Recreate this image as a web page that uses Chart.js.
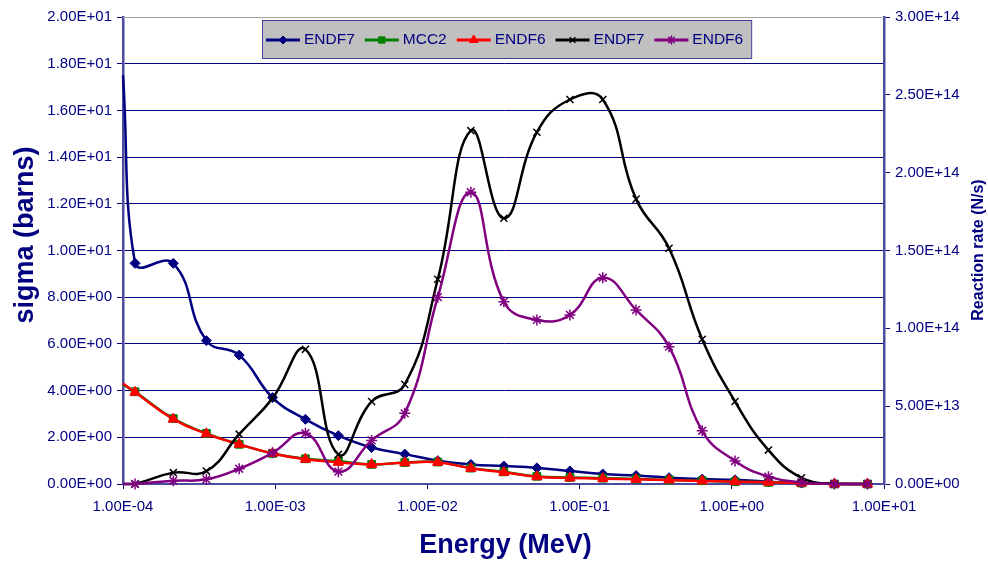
<!DOCTYPE html>
<html>
<head>
<meta charset="utf-8">
<title>Sigma and reaction rate vs energy</title>
<script src="https://cdn.jsdelivr.net/npm/chart.js@4/dist/chart.umd.min.js"></script>
<style>
    html, body { margin: 0; padding: 0; background: #fff; }
    #wrap { width: 988px; height: 561px; position: relative; }
</style>
</head>
<body>
<div id="wrap"><canvas id="chart" width="988" height="561"></canvas></div>
<script>
// energies (MeV)
const energy = [1.0e-4, 1.2e-4, 2.14e-4, 3.53e-4, 5.8e-4, 9.6e-4, 1.58e-3, 2.6e-3, 4.3e-3, 7.1e-3,
    1.17e-2, 1.93e-2, 3.18e-2, 5.24e-2, 8.64e-2, 0.142, 0.235, 0.387, 0.639, 1.05, 1.74, 2.87, 4.72, 7.79];

// sigma (barns), left axis
const sigmaEndf7 = [17.5, 9.45, 9.45, 6.14, 5.52, 3.70, 2.77, 2.07, 1.56, 1.28,
    1.00, 0.84, 0.77, 0.69, 0.56, 0.43, 0.36, 0.27, 0.21, 0.18, 0.10, 0.04, 0.01, 0.0];
const sigmaMcc2 = [4.25, 3.95, 2.80, 2.17, 1.70, 1.31, 1.08, 0.98, 0.84, 0.92,
    0.94, 0.68, 0.52, 0.33, 0.28, 0.25, 0.21, 0.17, 0.14, 0.10, 0.07, 0.04, 0.0, 0.0];
const sigmaEndf6 = [4.3, 3.93, 2.78, 2.15, 1.70, 1.31, 1.06, 0.93, 0.84, 0.91,
    0.93, 0.67, 0.50, 0.31, 0.26, 0.23, 0.20, 0.17, 0.13, 0.10, 0.07, 0.04, 0.0, 0.0];

// reaction rate (N/s), right axis
const rateEndf7 = [0, 0, 0.073e14, 0.083e14, 0.32e14, 0.55e14, 0.865e14, 0.19e14, 0.53e14, 0.64e14,
    1.315e14, 2.27e14, 1.707e14, 2.26e14, 2.47e14, 2.47e14, 1.83e14, 1.514e14, 0.93e14, 0.53e14,
    0.218e14, 0.04e14, 0, 0];
const rateEndf6 = [0, 0, 0.021e14, 0.03e14, 0.098e14, 0.20e14, 0.326e14, 0.079e14, 0.28e14, 0.454e14,
    1.20e14, 1.874e14, 1.171e14, 1.054e14, 1.086e14, 1.325e14, 1.118e14, 0.882e14, 0.342e14, 0.148e14,
    0.047e14, 0.01e14, 0, 0];

const xTicks = [1e-4, 1e-3, 1e-2, 1e-1, 1, 10];

const NAVY = '#000080';
const AXIS = '#4b4ba0';
const FONT = '"Liberation Sans", Arial, sans-serif';

function fmt(v) {
    const [m, e] = Number(v).toExponential(2).split('e');
    const n = parseInt(e, 10);
    return m + 'E' + (n < 0 ? '-' : '+') + String(Math.abs(n)).padStart(2, '0');
}

function series(label, values, color, style, radius, axis, order) {
    return {
        label,
        data: energy.map((e, i) => ({ x: e, y: values[i] })),
        yAxisID: axis,
        borderColor: color,
        backgroundColor: color,
        borderWidth: 2.5,
        tension: 0.45,
        pointStyle: style,
        pointRadius: energy.map((e, i) => i === 0 ? 0 : radius),
        pointBorderWidth: style === 'crossRot' || style === 'star' ? 1.5 : 1,
        pointBackgroundColor: color,
        pointBorderColor: color,
        legendRadius: radius,
        clip: false,
        order
    };
}

// legend box, top border and axis titles
const extras = {
    id: 'extras',
    afterDraw(chart) {
        const { ctx, chartArea: a } = chart;
        ctx.save();

        ctx.strokeStyle = '#a0a0a0';
        ctx.lineWidth = 1;
        ctx.beginPath();
        ctx.moveTo(a.left, a.top + 0.5);
        ctx.lineTo(a.right, a.top + 0.5);
        ctx.stroke();

        // legend
        ctx.font = '15.5px ' + FONT;
        const items = chart.data.datasets;
        let w = 8;
        items.forEach(ds => { w += 38 + ctx.measureText(ds.label).width + 10; });
        const bx = 262, by = 20, bh = 38;
        ctx.fillStyle = '#c0c0c0';
        ctx.fillRect(bx, by, w - 6, bh);
        ctx.strokeStyle = '#3c3c96';
        ctx.strokeRect(bx + 0.5, by + 0.5, w - 6, bh);
        let x = bx + 4;
        const cy = by + 20;
        items.forEach(ds => {
            ctx.strokeStyle = ds.borderColor;
            ctx.fillStyle = ds.borderColor;
            ctx.lineWidth = 3;
            ctx.beginPath();
            ctx.moveTo(x, cy);
            ctx.lineTo(x + 34, cy);
            ctx.stroke();
            ctx.lineWidth = ds.pointBorderWidth;
            if (Chart.helpers && Chart.helpers.drawPoint) {
                Chart.helpers.drawPoint(ctx, {
                    pointStyle: ds.pointStyle, rotation: 0,
                    radius: ds.legendRadius - 1, borderWidth: ds.pointBorderWidth
                }, x + 17, cy);
            }
            ctx.fillStyle = NAVY;
            ctx.textBaseline = 'middle';
            ctx.textAlign = 'left';
            ctx.fillText(ds.label, x + 38, cy);
            x += 38 + ctx.measureText(ds.label).width + 10;
        });

        // titles
        ctx.fillStyle = NAVY;
        ctx.textAlign = 'center';
        ctx.textBaseline = 'alphabetic';
        ctx.font = 'bold 27px ' + FONT;
        ctx.fillText('Energy (MeV)', (a.left + a.right) / 2 + 2, 553);

        ctx.save();
        ctx.translate(33, 235);
        ctx.rotate(-Math.PI / 2);
        ctx.fillText('sigma (barns)', 0, 0);
        ctx.restore();

        ctx.save();
        ctx.font = 'bold 16px ' + FONT;
        ctx.translate(983, 250);
        ctx.rotate(-Math.PI / 2);
        ctx.fillText('Reaction rate (N/s)', 0, 0);
        ctx.restore();

        ctx.restore();
    }
};

const tickFont = { family: FONT, size: 15 };

new Chart(document.getElementById('chart'), {
    type: 'line',
    data: {
        datasets: [
            series('ENDF7', sigmaEndf7, '#000080', 'rectRot', 5, 'y', 4),
            series('MCC2', sigmaMcc2, '#008000', 'rect', 5.5, 'y', 3),
            series('ENDF6', sigmaEndf6, '#ff0000', 'triangle', 6, 'y', 2),
            series('ENDF7', rateEndf7, '#000000', 'crossRot', 5, 'y2', 1),
            series('ENDF6', rateEndf6, '#800080', 'star', 5.5, 'y2', 0)
        ]
    },
    options: {
        responsive: false,
        animation: false,
        layout: { padding: { top: 17, left: 0, right: 0, bottom: 0 } },
        plugins: {
            legend: { display: false },
            tooltip: { enabled: false }
        },
        scales: {
            x: {
                type: 'logarithmic',
                min: 1e-4,
                max: 10,
                afterBuildTicks: s => { s.ticks = xTicks.map(v => ({ value: v })); },
                afterFit: s => { s.height = 77; },
                ticks: {
                    callback: v => fmt(v), autoSkip: false, maxRotation: 0,
                    color: NAVY, font: tickFont, padding: 9
                },
                grid: { drawOnChartArea: false, tickLength: 5, color: NAVY },
                border: { color: AXIS, width: 2 }
            },
            y: {
                position: 'left',
                min: 0,
                max: 20,
                afterFit: s => { s.width = 123; },
                ticks: { stepSize: 2, callback: v => fmt(v), color: NAVY, font: tickFont, padding: 5 },
                grid: {
                    color: c => c.tick && c.tick.value === 20 ? '#a0a0a0' : NAVY,
                    tickColor: NAVY, tickLength: 6
                },
                border: { color: AXIS, width: 2.5 }
            },
            y2: {
                position: 'right',
                min: 0,
                max: 3e14,
                afterFit: s => { s.width = 104; },
                ticks: { stepSize: 5e13, callback: v => fmt(v), color: NAVY, font: tickFont, padding: 5 },
                grid: { drawOnChartArea: false, tickLength: 6, color: NAVY },
                border: { color: AXIS, width: 2.5 }
            }
        }
    },
    plugins: [extras]
});
</script>
</body>
</html>
